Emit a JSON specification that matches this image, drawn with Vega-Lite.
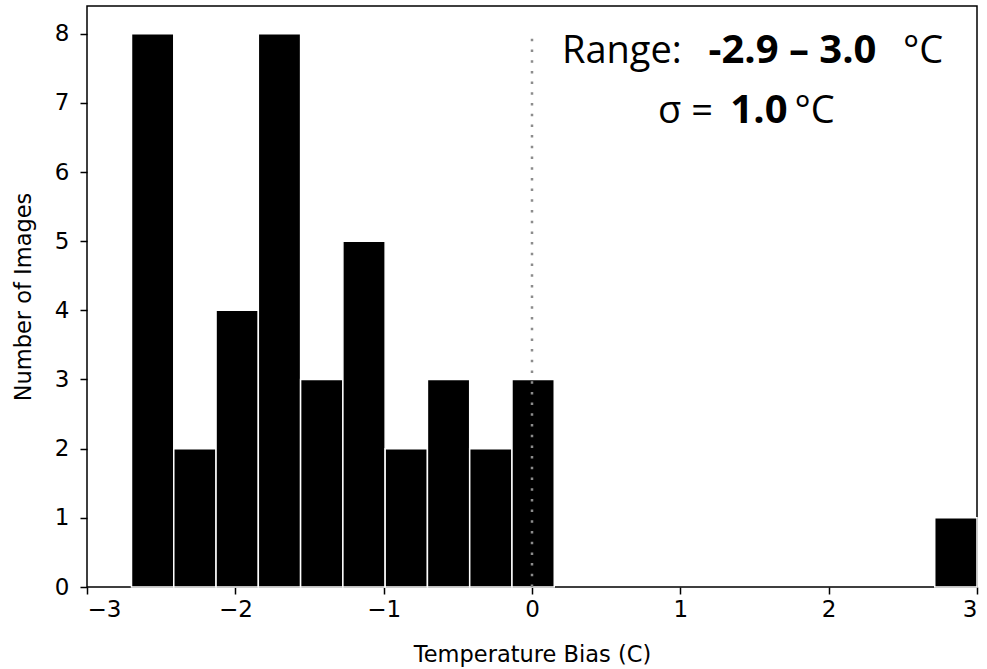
{
  "$schema": "https://vega.github.io/schema/vega-lite/v6.json",
  "width": 890,
  "height": 581,
  "autosize": {"type": "none"},
  "padding": {"left": 87, "top": 6, "right": 10, "bottom": 82},
  "background": "white",
  "config": {
    "view": {"stroke": "black", "strokeWidth": 1.5},
    "axis": {
      "labelFont": "DejaVu Sans",
      "titleFont": "DejaVu Sans",
      "labelFontSize": 23,
      "titleFontSize": 22.5,
      "labelColor": "black",
      "titleColor": "black",
      "titleFontWeight": "normal",
      "domain": false,
      "grid": false,
      "tickColor": "black",
      "tickWidth": 1.5,
      "tickSize": 7,
      "format": "d"
    }
  },
  "datasets": {
    "bins": [
      {"x0": -2.7, "x1": -2.415, "count": 8},
      {"x0": -2.415, "x1": -2.13, "count": 2},
      {"x0": -2.13, "x1": -1.845, "count": 4},
      {"x0": -1.845, "x1": -1.56, "count": 8},
      {"x0": -1.56, "x1": -1.275, "count": 3},
      {"x0": -1.275, "x1": -0.99, "count": 5},
      {"x0": -0.99, "x1": -0.705, "count": 2},
      {"x0": -0.705, "x1": -0.42, "count": 3},
      {"x0": -0.42, "x1": -0.135, "count": 2},
      {"x0": -0.135, "x1": 0.15, "count": 3},
      {"x0": 0.15, "x1": 0.435, "count": 0},
      {"x0": 0.435, "x1": 0.72, "count": 0},
      {"x0": 0.72, "x1": 1.005, "count": 0},
      {"x0": 1.005, "x1": 1.29, "count": 0},
      {"x0": 1.29, "x1": 1.575, "count": 0},
      {"x0": 1.575, "x1": 1.86, "count": 0},
      {"x0": 1.86, "x1": 2.145, "count": 0},
      {"x0": 2.145, "x1": 2.43, "count": 0},
      {"x0": 2.43, "x1": 2.715, "count": 0},
      {"x0": 2.715, "x1": 3.0, "count": 1}
    ],
    "zero": [{"x": 0, "y1": 0, "y2": 8}],
    "plain": [
      {"tx": 0.202, "ty": 7.576, "label": "Range:"},
      {"tx": 2.501, "ty": 7.576, "label": "°C"},
      {"tx": 0.85, "ty": 6.708, "label": "σ ="},
      {"tx": 1.77, "ty": 6.708, "label": "°C"}
    ],
    "bold": [
      {"tx": 1.756, "ty": 7.576, "label": "-2.9 – 3.0"},
      {"tx": 1.53, "ty": 6.708, "label": "1.0"}
    ]
  },
  "layer": [
    {
      "data": {"name": "bins"},
      "transform": [{"filter": "datum.count > 0"}],
      "mark": {"type": "rect", "color": "black", "stroke": "white", "strokeWidth": 1.5},
      "encoding": {
        "x": {
          "field": "x0", "type": "quantitative",
          "scale": {"domain": [-3, 3], "nice": false, "zero": false},
          "axis": {"values": [-3, -2, -1, 0, 1, 2, 3], "title": "Temperature Bias (C)", "labelPadding": 4, "titlePadding": 22}
        },
        "x2": {"field": "x1"},
        "y": {
          "field": "count", "type": "quantitative",
          "scale": {"domain": [0, 8.4], "nice": false},
          "axis": {"values": [0, 1, 2, 3, 4, 5, 6, 7, 8], "title": "Number of Images", "labelPadding": 11, "titlePadding": 19}
        },
        "y2": {"datum": 0}
      }
    },
    {
      "data": {"name": "zero"},
      "mark": {"type": "rule", "color": "#8c8c8c", "strokeWidth": 2.5, "strokeDash": [2.5, 8.2]},
      "encoding": {
        "x": {"field": "x", "type": "quantitative"},
        "y": {"field": "y1", "type": "quantitative"},
        "y2": {"field": "y2"}
      }
    },
    {
      "data": {"name": "plain"},
      "mark": {"type": "text", "align": "left", "baseline": "alphabetic", "font": "Open Sans", "fontSize": 38, "color": "black"},
      "encoding": {
        "x": {"field": "tx", "type": "quantitative"},
        "y": {"field": "ty", "type": "quantitative"},
        "text": {"field": "label"}
      }
    },
    {
      "data": {"name": "bold"},
      "mark": {"type": "text", "align": "center", "baseline": "alphabetic", "font": "Open Sans", "fontSize": 40, "fontWeight": "bold", "color": "black"},
      "encoding": {
        "x": {"field": "tx", "type": "quantitative"},
        "y": {"field": "ty", "type": "quantitative"},
        "text": {"field": "label"}
      }
    }
  ]
}
